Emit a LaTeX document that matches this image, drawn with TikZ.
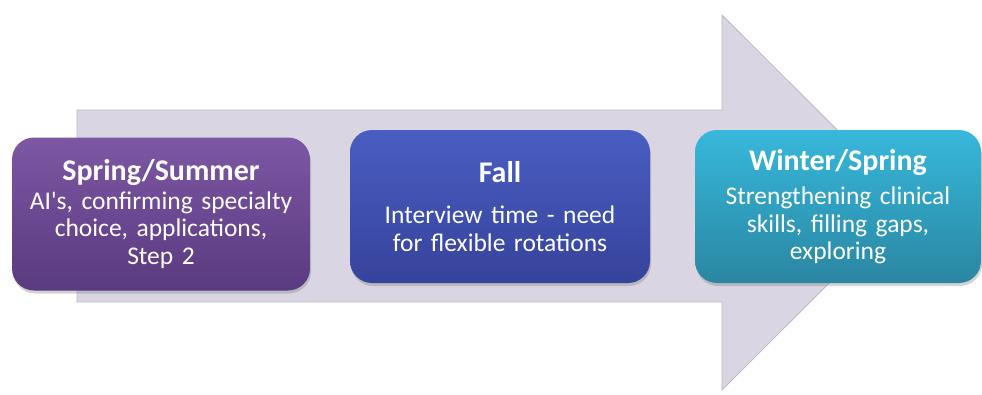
\documentclass[tikz,border=0pt]{standalone}
\usepackage{fontspec}
\setmainfont{Carlito}
\usetikzlibrary{shadows}

\definecolor{flechafondo}{HTML}{D9D5E3}
\definecolor{flechaborde}{HTML}{BDB8C9}
\definecolor{moradoA}{HTML}{7D57A3}
\definecolor{moradoB}{HTML}{5A3A80}
\definecolor{azulA}{HTML}{4A5DC2}
\definecolor{azulB}{HTML}{36439C}
\definecolor{cianA}{HTML}{37B8DB}
\definecolor{cianB}{HTML}{2A86A2}

\def\W{982}
\def\H{394}

% título de cada etapa, con el espacio que lo separa del texto
\newcommand{\titulo}[2][0pt]{{\fontsize{30}{31}\bfseries\selectfont #2}\\[#1]}

\begin{document}
\begin{tikzpicture}[
	x = 1pt, y = -1pt,
	flecha/.style = {fill = flechafondo, draw = flechaborde, line width = 0.8pt},
	etapa/.style = {
		rounded corners = 22pt, inner sep = 0pt,
		minimum height = 153pt, text = white, align = center,
		font = \fontsize{25.5}{27.5}\selectfont,
		drop shadow = {opacity = 0.35, shadow xshift = 1pt, shadow yshift = -3pt}
	}
]

	% márgenes del dibujo
	\useasboundingbox (0,0) rectangle (\W,\H);

	% flecha de fondo
	\draw[flecha]
		(77,110) -- (722,110) -- (722,15) -- (910,202.5)
		-- (722,390) -- (722,302) -- (77,302) -- cycle;

	% etapas
	\node[etapa, minimum width = 298pt, text width = 296pt,
		top color = moradoA, bottom color = moradoB]
		(primavera) at (161,214)
		{\titulo[1pt]{Spring/Summer}
		AI\textquotesingle s, confirming specialty\\choice, applications,\\Step 2};

	\node[etapa, minimum width = 300pt, text width = 296pt,
		top color = azulA, bottom color = azulB]
		(otono) at (500,206.5)
		{\titulo[14pt]{Fall}
		Interview time - need\\for flexible rotations};

	\node[etapa, minimum width = 286pt, text width = 284pt,
		top color = cianA, bottom color = cianB]
		(invierno) at (838,206.5)
		{\titulo[7pt]{Winter/Spring}
		Strengthening clinical\\skills, filling gaps,\\exploring};

\end{tikzpicture}
\end{document}
